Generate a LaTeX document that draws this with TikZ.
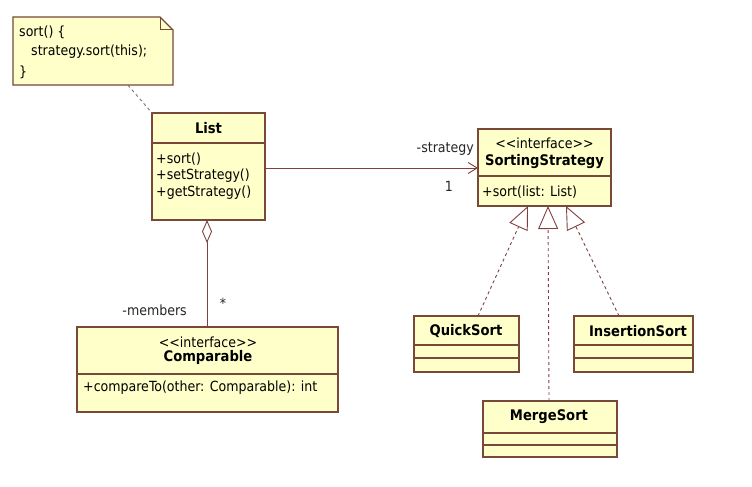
\documentclass[tikz,border=0pt]{standalone}
\usepackage{fontspec}
\setmainfont{DejaVu Sans Condensed}
\usetikzlibrary{arrows.meta,calc}
\definecolor{boxfill}{RGB}{255,255,202}
\definecolor{boxline}{RGB}{120,72,56}
\definecolor{conline}{RGB}{128,64,64}
\tikzset{
  cls/.style={draw=boxline,fill=boxfill,line width=1.3pt,inner sep=0pt,outer sep=0pt},
  divider/.style={draw=boxline,line width=1.1pt},
  txt/.style={inner sep=0pt,font=\fontsize{14}{16}\selectfont},
  ttl/.style={inner sep=0pt,font=\fontsize{14.6}{16}\selectfont\bfseries},
  lbl/.style={inner sep=0pt,font=\fontsize{14}{16}\selectfont,text=black!85},
  conn/.style={draw=conline,line width=0.9pt},
  realize/.style={conn,dash pattern=on 3pt off 3pt,-{Triangle[open,length=23pt,width=20pt,line width=0.9pt,fill=white]}},
}
\begin{document}
\begin{tikzpicture}[x=1pt,y=-1pt]
\useasboundingbox (0,0) rectangle (752,487);
\fill[white] (0,0) rectangle (752,487);

% Note
\node[draw=none,minimum width=160,minimum height=68,inner sep=0pt] (note) at (93,51) {};
\filldraw[draw=boxline,fill=boxfill,line width=1.3pt]
  (13,17) -- (160,17) -- (173,30) -- (173,85) -- (13,85) -- cycle;
\draw[boxline,line width=1pt] (160,17) -- (160,30) -- (173,30);
\node[txt,anchor=west] (n1) at (19,32) {sort() \{};
\node[txt,anchor=west] (n2) at (31,52) {strategy.sort(this);};
\node[txt,anchor=west] (n3) at (19,72) {\}};

% List
\node[cls,minimum width=113,minimum height=107] (list) at (208.5,166.5) {};
\draw[divider] (list.west |- 0,143) -- (list.east |- 0,143);
\node[ttl] (listt) at (208.5,128) {List};
\node[txt,anchor=west] (lm1) at (156,159) {+sort()};
\node[txt,anchor=west] (lm2) at (156,176) {+setStrategy()};
\node[txt,anchor=west] (lm3) at (156,193) {+getStrategy()};

% SortingStrategy
\node[cls,minimum width=133,minimum height=77] (ss) at (544.5,167.5) {};
\draw[divider] (ss.west |- 0,176) -- (ss.east |- 0,176);
\node[txt] (sst1) at (544.5,143) {<{}<interface>{}>};
\node[ttl] (sst2) at (544.5,162) {SortingStrategy};
\node[txt,anchor=west] (ssm) at (482,192) {+sort(list: List)};

% Comparable
\node[cls,minimum width=261,minimum height=85] (cmp) at (207.5,369.5) {};
\draw[divider] (cmp.west |- 0,374) -- (cmp.east |- 0,374);
\node[txt] (cmpt1) at (208,342) {<{}<interface>{}>};
\node[ttl] (cmpt2) at (208,357) {Comparable};
\node[txt,anchor=west] (cmpm) at (83,388) {+compareTo(other: Comparable): int};

% QuickSort
\node[cls,minimum width=105,minimum height=56] (qs) at (466.5,344) {};
\draw[divider] (qs.west |- 0,345) -- (qs.east |- 0,345);
\draw[divider] (qs.west |- 0,358) -- (qs.east |- 0,358);
\node[ttl] (qst) at (466,331) {QuickSort};

% InsertionSort
\node[cls,minimum width=119,minimum height=56] (is) at (633.5,344) {};
\draw[divider] (is.west |- 0,345) -- (is.east |- 0,345);
\draw[divider] (is.west |- 0,358) -- (is.east |- 0,358);
\node[ttl] (ist) at (638,331) {InsertionSort};

% MergeSort
\node[cls,minimum width=134,minimum height=56] (ms) at (550,429) {};
\draw[divider] (ms.west |- 0,433) -- (ms.east |- 0,433);
\draw[divider] (ms.west |- 0,445) -- (ms.east |- 0,445);
\node[ttl] (mst) at (549,417) {MergeSort};

% Connectors
\draw[line width=0.9pt,draw=black!55,dash pattern=on 3pt off 3pt] (note.south -| 128,0) -- (list.north west);
\draw[conn,-{Straight Barb[length=9pt,width=11pt,line width=0.9pt]}] (list.east |- 0,168) -- (ss.west |- 0,168);
\node[lbl,anchor=east] (lstr) at (474,149) {-strategy};
\node[lbl] (lone) at (449,186) {1};

\draw[conn,{Diamond[open,length=23pt,width=10pt,line width=0.9pt,fill=white]}-] (list.south -| 207,0) -- (cmp.north -| 207,0);
\node[lbl,anchor=east] (lmem) at (187,310) {-members};
\node[lbl] (lstar) at (223,303) {*};

\draw[realize] (qs.north -| 478,0) -- (ss.south -| 528,0);
\draw[realize] (ms.north -| 549,0) -- (ss.south -| 548,0);
\draw[realize] (is.north -| 619,0) -- (ss.south -| 566,0);
\end{tikzpicture}
\end{document}
